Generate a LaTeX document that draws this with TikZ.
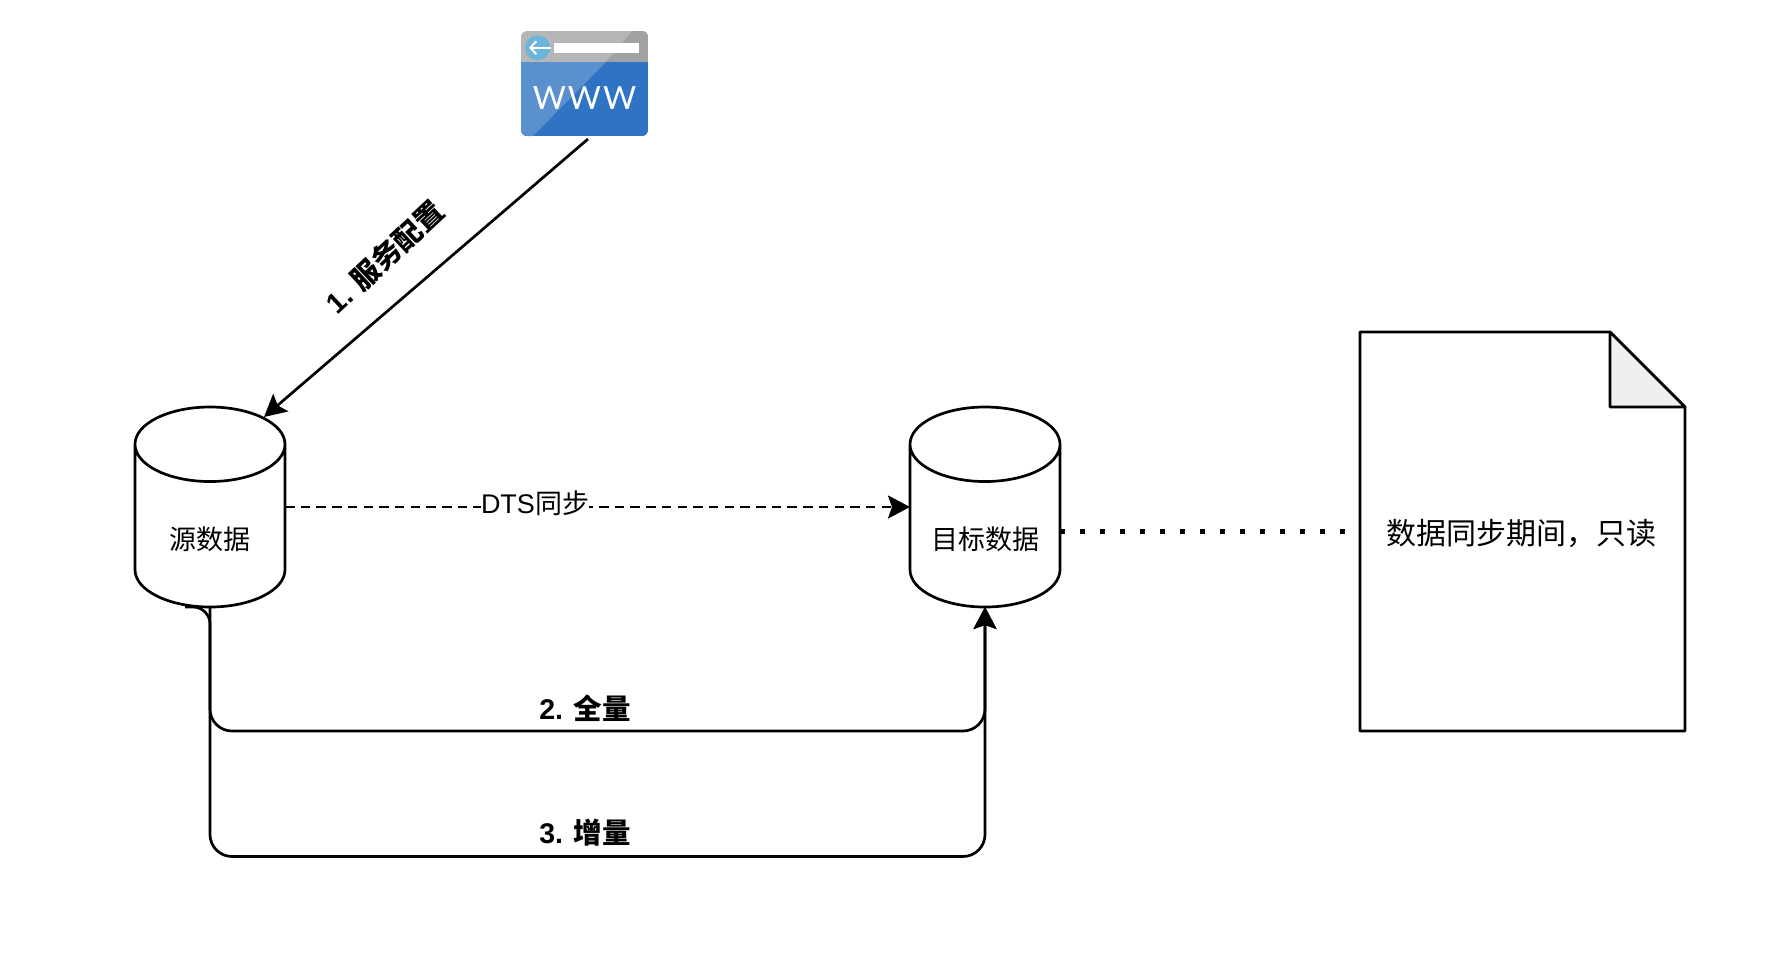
\documentclass[tikz,border=0pt]{standalone}
\usepackage{fontspec}
\setmainfont{Liberation Sans}
\newfontfamily\cjk{Noto Sans CJK SC}
\newfontfamily\webfont[LetterSpace=6]{Lato}
\usetikzlibrary{calc, shapes.geometric, arrows.meta, positioning}
\definecolor{webblue}{HTML}{2E73C4}
\definecolor{webpale}{HTML}{5B90CE}
\definecolor{webgray}{HTML}{B5B6B7}
\definecolor{webdark}{HTML}{A1A2A3}
\definecolor{webdot}{HTML}{6DB4DA}
\definecolor{foldgray}{HTML}{EFEFF1}
\newcommand{\dbbox}{\phantom{\rule{81pt}{30pt}}}
\tikzset{
	dbnode/.style={draw,cylinder,shape border rotate=90,aspect=0.92,minimum width=150,minimum height=200,inner sep=0,outer sep=0,line width=2.7,anchor=south},
	dbtext/.style={inner sep=0,font=\fontsize{27}{27}\selectfont\cjk},
	flow/.style={line width=2.7,-{Stealth[length=22,width=23,inset=4]}},
	steplabel/.style={font=\fontsize{28.5}{28.5}\selectfont\bfseries,inner sep=0},
}
\begin{document}
\begin{tikzpicture}[x=1pt,y=-1pt]
	\useasboundingbox (0,0) rectangle (1770,962);

	% browser icon
	\begin{scope}
		\clip[rounded corners=6] (521,31) rectangle (648,136);
		\fill[webgray] (521,31) rectangle (648,62);
		\fill[webdark] (632,31) -- (648,31) -- (648,62) -- (606,62) -- cycle;
		\fill[webblue] (521,62) rectangle (648,136);
		\fill[webpale] (521,62) -- (606,62) -- (533,136) -- (521,136) -- cycle;
	\end{scope}
	\fill[webdot] (537.7,47.7) circle (12.5);
	\fill[white] (554,43) rectangle (639,53);
	\draw[white,line width=2,-{Straight Barb[length=6,width=13]}] (551,47.7) -- (529,47.7);
	\node[text=white,inner sep=0] (www) at (584.5,98) {\fontsize{32}{32}\selectfont\webfont WWW};

	% stores and note
	\node[dbnode] (src) at (210,607) {\dbbox};
	\node[dbnode] (dst) at (985,607) {\dbbox};
	\node[dbtext] (srctext) at (210,539) {源数据};
	\node[dbtext] (dsttext) at (985,539) {目标数据};
	\draw[line width=2.7,line join=round] (1360,332) -- (1610,332) -- (1685,407) -- (1685,731) -- (1360,731) -- cycle;
	\draw[line width=2.7,line join=round,fill=foldgray] (1610,332) -- (1685,407) -- (1610,407) -- cycle;
	\node[inner sep=0,font=\fontsize{30}{30}\selectfont\cjk] (note) at (1521,533) {数据同步期间，只读};

	\coordinate (wwwfoot) at (588,139);
	\coordinate (srcneck) at (264,417);
	\coordinate (srcfoot) at (185,607);
	\coordinate (noteedge) at (1345,531.7);
	\coordinate (srcside) at (285,507);
	\coordinate (dstside) at (910,507);
	\coordinate (dstdots) at (1060,531.7);

	\draw[flow] (wwwfoot) -- (srcneck);
	\node[steplabel,rotate=43] (cfg) at (384.5,257) {1. {\cjk 服务配置}};
	\draw[flow,dash pattern=on 9.5 off 6.2] (srcside) -- (dstside);
	\node[fill=white,inner sep=0,font=\fontsize{27}{27}\selectfont] (dts) at (535,503) {DTS{\cjk 同步}};
	\draw[line width=5,dash pattern=on 5 off 15] (dstdots) -- (noteedge);

	\draw[flow,rounded corners=22] (src.south) |- (985,731) -- (dst.south);
	\draw[flow,rounded corners=17] (srcfoot) -- (210,607) [rounded corners=22] |- (985,856.5) -- (dst.south);
	\node[steplabel] (full) at (585,708) {2. {\cjk 全量}};
	\node[steplabel] (incr) at (585,833) {3. {\cjk 增量}};
\end{tikzpicture}
\end{document}
